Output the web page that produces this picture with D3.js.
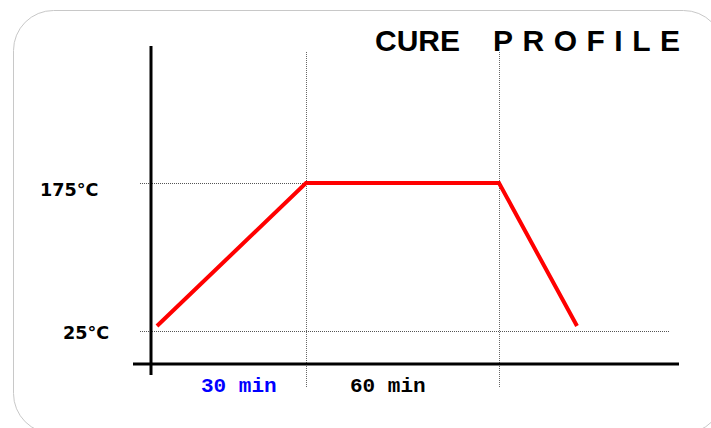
<!DOCTYPE html>
<html>
	<head>
		<meta charset="utf-8">
		<title>Cure Profile</title>
		<script src="https://cdn.jsdelivr.net/npm/d3@7"></script>
		<style>
			body { margin: 0; background: #fff; }
		</style>
	</head>
	<body>
		<div id="root"></div>
		<script>
			//profile points: minutes from start, temperature in C
			const profileTimes = [0, 30, 90, 115];
			const profileTemps = [30, 175, 175, 30];

			//reference levels and phase markers
			const tempTicks = [175, 25];
			const tempLabels = ["175°C", "25°C"];
			const phaseTimes = [30, 90];
			const phaseLabels = ["30 min", "60 min"];

			const width = 711;
			const height = 428;

			//schematic x scale, each phase gets its own stretch
			const xScale = d3.scaleLinear()
				.domain(profileTimes)
				.range([157, 306, 499, 577]);

			const yScale = d3.scaleLinear()
				.domain([25, 175])
				.range([331, 183]);

			const svg = d3.select("#root")
				.append("svg")
				.attr("width", width)
				.attr("height", height);

			//rounded frame, runs off the right and bottom edges
			svg.append("rect")
				.attr("x", 13.5)
				.attr("y", 10.5)
				.attr("width", 710)
				.attr("height", 423)
				.attr("rx", 40)
				.attr("fill", "none")
				.attr("stroke", "#c8c8c8")
				.attr("stroke-width", 1);

			//title
			const title = svg.append("text")
				.attr("x", 375)
				.attr("y", 51)
				.attr("font-family", "'Liberation Sans', Arial, sans-serif")
				.attr("font-weight", "bold")
				.attr("font-size", "30px")
				.attr("fill", "#000");
			title.append("tspan").text("CURE");
			title.append("tspan")
				.attr("x", 493)
				.attr("letter-spacing", "9.5px")
				.text("PROFILE");

			//dotted level lines
			svg.selectAll(".level")
				.data(tempTicks)
				.enter()
				.append("line")
				.attr("class", "level")
				.attr("x1", 140)
				.attr("x2", (d) => d === 175 ? xScale(30) : 670)
				.attr("y1", (d) => yScale(d) + 0.5)
				.attr("y2", (d) => yScale(d) + 0.5)
				.attr("stroke", "#555")
				.attr("stroke-width", 1)
				.attr("stroke-dasharray", "1,1");

			//dotted phase lines
			svg.selectAll(".phase")
				.data(phaseTimes)
				.enter()
				.append("line")
				.attr("class", "phase")
				.attr("x1", (d) => xScale(d) + 0.5)
				.attr("x2", (d) => xScale(d) + 0.5)
				.attr("y1", 52)
				.attr("y2", 388)
				.attr("stroke", "#666")
				.attr("stroke-width", 1)
				.attr("stroke-dasharray", "1,1");

			//axes
			svg.append("line")
				.attr("x1", 151).attr("x2", 151)
				.attr("y1", 46).attr("y2", 375)
				.attr("stroke", "#000")
				.attr("stroke-width", 3);

			svg.append("line")
				.attr("x1", 133).attr("x2", 679)
				.attr("y1", 364).attr("y2", 364)
				.attr("stroke", "#000")
				.attr("stroke-width", 3);

			//temperature labels
			svg.selectAll(".tlabel")
				.data(tempTicks)
				.enter()
				.append("text")
				.attr("class", "tlabel")
				.attr("x", (d, i) => i === 0 ? 40 : 63)
				.attr("y", (d, i) => yScale(d) + (i === 0 ? 13 : 8))
				.attr("font-family", "'DejaVu Sans', Verdana, sans-serif")
				.attr("font-weight", "bold")
				.attr("font-size", "17.6px")
				.text((d, i) => tempLabels[i]);

			//phase labels
			svg.selectAll(".plabel")
				.data(phaseLabels)
				.enter()
				.append("text")
				.attr("class", "plabel")
				.attr("x", (d, i) => i === 0 ? 201 : 350)
				.attr("y", 392)
				.attr("font-family", "'Liberation Mono', 'Courier New', monospace")
				.attr("font-weight", "bold")
				.attr("font-size", "21px")
				.attr("fill", (d, i) => i === 0 ? "#0000ff" : "#000")
				.text((d) => d);

			//cure profile line
			const line = d3.line()
				.x((d) => xScale(d))
				.y((d, i) => yScale(profileTemps[i]));

			svg.append("path")
				.datum(profileTimes)
				.attr("d", line)
				.attr("fill", "none")
				.attr("stroke", "#ff0000")
				.attr("stroke-width", 4)
				.attr("stroke-linejoin", "miter");
		</script>
	</body>
</html>
